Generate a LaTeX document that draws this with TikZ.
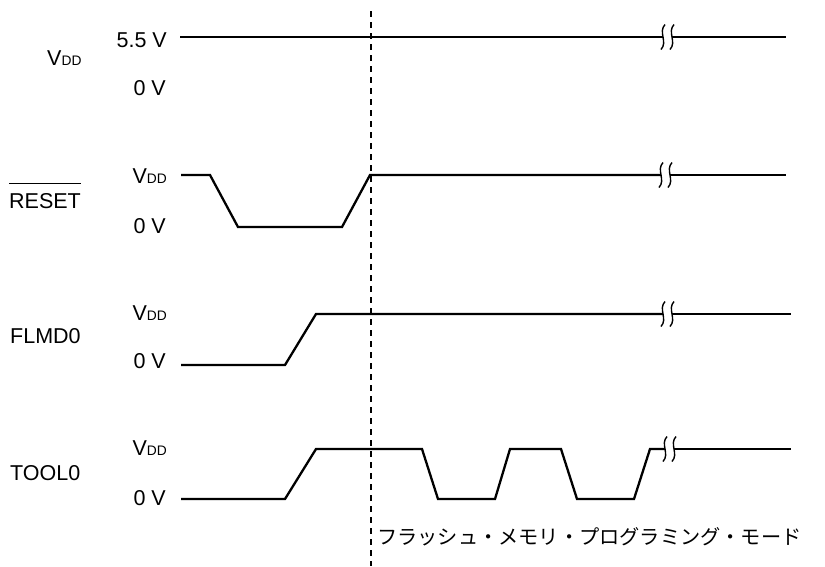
\documentclass[tikz,border=0pt]{standalone}
\usepackage{fontspec}
\setmainfont{Liberation Sans}
\newfontfamily\jpfont{Noto Sans CJK JP}
\newcommand\vddtxt{V{\fontsize{13.8}{13.8}\selectfont DD}}
\tikzset{
  sig/.style={line width=2.3pt, line join=miter},
  lvl/.style={font=\fontsize{21.5}{21.5}\selectfont, inner sep=0pt, anchor=base east},
  signame/.style={font=\fontsize{21.5}{21.5}\selectfont, inner sep=0pt, anchor=base west},
  brk/.style={line width=1.4pt},
  brkpic/.pic={\draw[brk] (2,-12.5) .. controls (-5,-5) and (5,5) .. (-2,12.5);},
  dashline/.style={line width=1.2pt, dash pattern=on 5.5pt off 5.5pt},
}
\begin{document}
\begin{tikzpicture}[x=1pt,y=-1pt]
\useasboundingbox (0,0) rectangle (825,566);

% dashed mode line
\coordinate (dtop) at (371,11);
\coordinate (dbot) at (371,566);
\draw[dashline] (dtop) -- (dbot);

% signal names
\node[signame] (nvdd) at (47,65) {\vddtxt};
\node[signame] (nreset) at (9,208) {RESET};
\draw[line width=1pt] ([yshift=9pt]nreset.north west) -- ([yshift=9pt]nreset.north east);
\node[signame] (nflmd) at (10,343) {FLMD0};
\node[signame] (ntool) at (10,480) {TOOL0};

% level labels
\node[lvl] (v55) at (167,47) {5.5 V};
\node[lvl] (v0a) at (166,95) {0 V};
\node[lvl] (rvdd) at (167,183) {\vddtxt};
\node[lvl] (r0) at (166,233) {0 V};
\node[lvl] (fvdd) at (167,320) {\vddtxt};
\node[lvl] (f0) at (166,368) {0 V};
\node[lvl] (tvdd) at (167,455) {\vddtxt};
\node[lvl] (t0) at (166,505) {0 V};

% VDD
\draw[sig] (180,37) -- (663,37);
\draw[sig] (672,37) -- (786,37);
\pic at (663,37) {brkpic};
\pic at (672,37) {brkpic};

% RESET
\draw[sig] (181,175) -- (210,175) -- (238,227) -- (342,227) -- (370,175) -- (661,175);
\draw[sig] (670,175) -- (786,175);
\pic at (661,175) {brkpic};
\pic at (670,175) {brkpic};

% FLMD0
\draw[sig] (181,365) -- (285,365) -- (316,314) -- (663,314);
\draw[sig] (672,314) -- (791,314);
\pic at (663,314) {brkpic};
\pic at (672,314) {brkpic};

% TOOL0
\draw[sig] (181,499) -- (285,499) -- (316,449) -- (422,449) -- (438,499) -- (495,499) -- (510,449) -- (561,449) -- (577,499) -- (634,499) -- (650,449) -- (665,449);
\draw[sig] (674,449) -- (791,449);
\pic at (665,449) {brkpic};
\pic at (674,449) {brkpic};

% mode text
\node[font=\jpfont\fontsize{20.2}{20.2}\selectfont, inner sep=0pt, anchor=base west] (mode) at (377,544) {フラッシュ・メモリ・プログラミング・モード};
\end{tikzpicture}
\end{document}
